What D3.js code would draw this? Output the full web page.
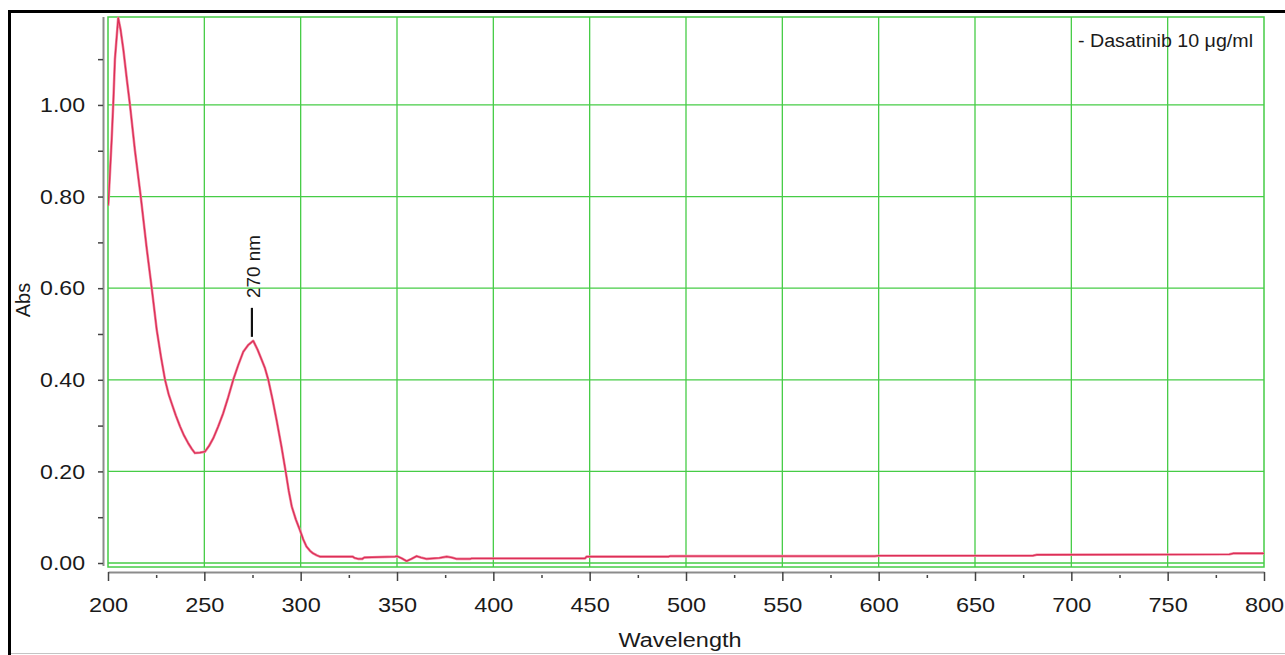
<!DOCTYPE html>
<html>
<head>
<meta charset="utf-8">
<script src="https://cdn.jsdelivr.net/npm/d3@7"></script>
<style>
  html, body { margin: 0; padding: 0; background: #fff; }
  svg { display: block; }
  text { font-family: "Liberation Sans", Arial, Helvetica, sans-serif; fill: #1a1a1a; }
</style>
</head>
<body>
<svg id="chart" width="1285" height="655"></svg>
<script>
// ---------- DATA ----------
const wavelengths = [200, 200.2, 201, 201.9, 202.8, 203.6, 205.3, 206.5, 208, 209.8, 211.4, 214, 217, 220, 222.7,
  225.3, 227.5, 229.6, 231.5, 233, 235.2, 237.4, 239.5, 241.7, 243.5, 245.1, 247.7, 250.3, 252.5, 254.6,
  257.2, 259.8, 262.4, 265, 267.6, 270.2, 272.8, 275.4, 277.6, 279.8, 281.5, 283.2, 285.4, 287.5, 290,
  292.2, 293.8, 295.4, 297.5, 299.6, 301.3, 303, 304.8, 306.5, 308.3, 310,
  327, 328, 330, 332, 333, 349, 350, 352.5, 355, 357.5, 360.2, 362.5, 365.4, 372, 375.8, 378.5, 381, 388,
  388.7, 447.6, 448.4, 491, 491.7, 598, 600, 680, 682, 782, 784, 800];
const absorbance = [0.78, 0.785, 0.85, 0.924, 1.01, 1.10, 1.19, 1.165, 1.12, 1.055, 1.00, 0.90, 0.80, 0.69, 0.60,
  0.509, 0.45, 0.40, 0.368, 0.349, 0.322, 0.298, 0.278, 0.261, 0.249, 0.240, 0.241, 0.243, 0.256, 0.272,
  0.298, 0.327, 0.362, 0.40, 0.432, 0.461, 0.476, 0.485, 0.466, 0.443, 0.425, 0.40, 0.357, 0.312, 0.255,
  0.20, 0.158, 0.123, 0.095, 0.072, 0.052, 0.036, 0.027, 0.021, 0.017, 0.014,
  0.014, 0.011, 0.009, 0.009, 0.012, 0.014, 0.015, 0.010, 0.004, 0.009, 0.015, 0.012, 0.009, 0.011, 0.014, 0.012, 0.009, 0.009,
  0.010, 0.010, 0.014, 0.014, 0.015, 0.015, 0.016, 0.016, 0.018, 0.019, 0.021, 0.021];

const xMajorTicks = [200, 250, 300, 350, 400, 450, 500, 550, 600, 650, 700, 750, 800];
const xAllTicks = d3.range(200, 801, 25);
const yMajorTicks = [0.00, 0.20, 0.40, 0.60, 0.80, 1.00];
const yAllTicks = d3.range(0, 11.5, 1).map(d => +(d / 10).toFixed(1));
const xDomain = [200, 800];
const yDomain = [-0.0087, 1.192];
const legendLabel = "- Dasatinib 10 μg/ml";
const peakLabel = "270 nm";
const peakMark = { wavelength: 274.7, abs: 0.485 };
const xTitle = "Wavelength";
const yTitle = "Abs";

// ---------- LAYOUT ----------
const svg = d3.select("#chart");
const plot = { left: 108, right: 1264, top: 17, bottom: 567 };
const x = d3.scaleLinear().domain(xDomain).range([plot.left, plot.right]);
const y = d3.scaleLinear().domain(yDomain).range([plot.bottom, plot.top]);
const green = "#46cc46";

function stretch(sel, factor) {
  sel.each(function () {
    const L = this.getComputedTextLength();
    d3.select(this).attr("textLength", L * factor).attr("lengthAdjust", "spacingAndGlyphs");
  });
}

// outer frame
svg.append("line").attr("x1", 9.5).attr("x2", 9.5).attr("y1", 10).attr("y2", 655)
  .attr("stroke", "#000").attr("stroke-width", 3);
svg.append("line").attr("x1", 8).attr("x2", 1285).attr("y1", 11.5).attr("y2", 11.5)
  .attr("stroke", "#000").attr("stroke-width", 3);
svg.append("line").attr("x1", 11).attr("x2", 1285).attr("y1", 653.5).attr("y2", 653.5)
  .attr("stroke", "#c4c4c4").attr("stroke-width", 1);

// grid
const grid = svg.append("g");
grid.selectAll(".vg").data(xMajorTicks.slice(1, -1)).join("line")
  .attr("x1", d => x(d)).attr("x2", d => x(d)).attr("y1", plot.top).attr("y2", plot.bottom)
  .attr("stroke", green).attr("stroke-width", 1.3);
grid.selectAll(".hg").data(yMajorTicks).join("line")
  .attr("x1", plot.left).attr("x2", plot.right).attr("y1", d => y(d)).attr("y2", d => y(d))
  .attr("stroke", green).attr("stroke-width", 1.3);
grid.append("rect").attr("x", plot.left).attr("y", plot.top)
  .attr("width", plot.right - plot.left).attr("height", plot.bottom - plot.top)
  .attr("fill", "none").attr("stroke", green).attr("stroke-width", 1.5);

// curve
svg.append("clipPath").attr("id", "clip").append("rect")
  .attr("x", plot.left).attr("y", plot.top - 1).attr("width", plot.right - plot.left).attr("height", plot.bottom - plot.top + 1);
const pts = wavelengths.map((w, i) => [w, absorbance[i]]);
const line = d3.line().x(d => x(d[0])).y(d => y(d[1]));
svg.append("path").datum(pts).attr("d", line).attr("clip-path", "url(#clip)")
  .attr("fill", "none").attr("stroke", "#f28aa0").attr("stroke-width", 2.6).attr("stroke-linejoin", "round");
svg.append("path").datum(pts).attr("d", line).attr("clip-path", "url(#clip)")
  .attr("fill", "none").attr("stroke", "#dc2f58").attr("stroke-width", 1.3).attr("stroke-linejoin", "round");

// y axis
const yAxis = d3.axisLeft(y).tickValues(yAllTicks).tickSize(5).tickSizeOuter(0)
  .tickFormat(d => yMajorTicks.some(m => Math.abs(m - d) < 1e-6) ? d3.format(".2f")(d) : "");
const gy = svg.append("g").attr("transform", "translate(103,0)").call(yAxis);
gy.select(".domain").attr("stroke", "#8c8c8c").attr("stroke-width", 2).attr("d", `M0.5,${plot.top}V${plot.bottom - 1}`);
gy.selectAll(".tick line").attr("stroke", "#444").attr("stroke-width", 1.5);
gy.selectAll(".tick text").attr("x", -18).attr("font-size", 21).attr("fill", "#1a1a1a")
  .style("font-family", '"Liberation Sans", Arial, sans-serif');
stretch(gy.selectAll(".tick text"), 1.1);

// x axis
const xAxis = d3.axisBottom(x).tickValues(xAllTicks).tickSize(8).tickSizeOuter(0)
  .tickFormat(d => xMajorTicks.includes(d) ? String(d) : "");
const gx = svg.append("g").attr("transform", "translate(0,572)").call(xAxis);
gx.select(".domain").attr("stroke", "#8c8c8c").attr("stroke-width", 2);
gx.selectAll(".tick line").attr("stroke", "#444").attr("stroke-width", 1.5)
  .attr("y1", d => xMajorTicks.includes(d) ? 0 : 3)
  .attr("y2", d => xMajorTicks.includes(d) ? 9 : 6);
gx.selectAll(".tick text").attr("y", 25).attr("font-size", 21).attr("fill", "#1a1a1a")
  .style("font-family", '"Liberation Sans", Arial, sans-serif');
stretch(gx.selectAll(".tick text"), 1.12);

// axis titles
svg.append("text").attr("x", 680).attr("y", 646.5).attr("text-anchor", "middle")
  .attr("font-size", 20).attr("textLength", 123).attr("lengthAdjust", "spacingAndGlyphs").text(xTitle);
svg.append("text").attr("transform", "translate(30,300) rotate(-90)").attr("text-anchor", "middle")
  .attr("font-size", 20).text(yTitle);

// legend
svg.append("text").attr("x", 1078).attr("y", 46.5).attr("font-size", 18)
  .attr("textLength", 175).attr("lengthAdjust", "spacingAndGlyphs").text(legendLabel);

// peak annotation
const px = x(peakMark.wavelength);
svg.append("line").attr("x1", px).attr("x2", px).attr("y1", y(peakMark.abs) - 4).attr("y2", y(peakMark.abs) - 33)
  .attr("stroke", "#111").attr("stroke-width", 2.2);
svg.append("text").attr("transform", `translate(${px + 8},266.5) rotate(-90)`).attr("text-anchor", "middle")
  .attr("font-size", 19).attr("textLength", 63).attr("lengthAdjust", "spacingAndGlyphs").text(peakLabel);
</script>
</body>
</html>
